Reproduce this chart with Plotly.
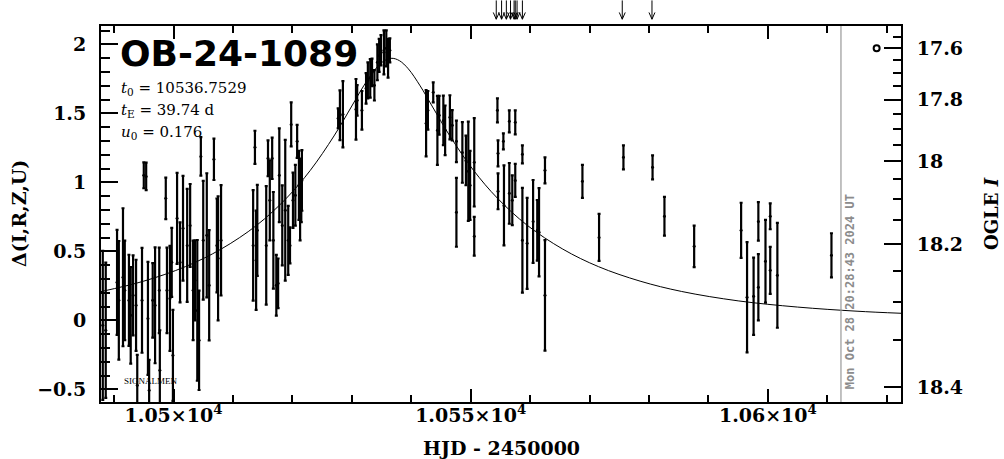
import math
import plotly.graph_objects as go

# ---- observed photometry (HJD-2450000, Delta, error) ----
days = [10488.1, 10488.6, 10490.5, 10490.8, 10491.5, 10491.8, 10492.5, 10492.8, 10493.2, 10493.7,
        10493.9, 10494.7, 10495.0, 10495.4, 10495.7, 10495.9, 10496.5, 10496.9, 10497.6, 10497.7,
        10498.7, 10498.9, 10499.4, 10499.7, 10499.9, 10500.6, 10501.1, 10501.6, 10502.3, 10502.8,
        10503.3, 10503.6, 10504.0, 10504.3, 10504.6, 10505.0, 10505.6, 10506.0, 10506.8, 10507.3,
        10507.5, 10508.0,
        10513.4, 10513.7, 10513.9, 10514.1, 10515.6, 10515.9, 10516.2, 10516.6, 10516.8, 10517.3,
        10517.6, 10517.8, 10518.3, 10518.8, 10519.3, 10519.6, 10519.8, 10520.1, 10520.5, 10520.8,
        10521.1, 10521.3, 10521.5, 10521.6,
        10527.7, 10528.0, 10528.5, 10530.7, 10530.9, 10531.7, 10532.4, 10532.7, 10533.1, 10533.4,
        10533.8, 10534.3, 10534.6, 10534.9, 10535.4, 10535.8, 10536.1, 10536.4,
        10542.5, 10542.8, 10543.7, 10544.4, 10544.7, 10545.4, 10545.7, 10546.5, 10546.9, 10547.6,
        10547.6, 10548.6, 10549.2, 10549.6, 10549.9, 10550.6, 10550.6,
        10554.5, 10554.6, 10554.6, 10555.5, 10555.6, 10556.5, 10556.5, 10557.0, 10557.5, 10557.5,
        10558.7, 10558.7, 10559.5, 10560.5, 10561.2, 10561.5, 10562.5, 10562.5,
        10568.8, 10571.6, 10575.7, 10580.6, 10582.6, 10587.6, 10595.5, 10596.5, 10597.6, 10598.4,
        10598.4, 10599.6, 10600.4, 10600.4, 10601.6, 10610.7]
delta = [-0.036, -0.072, 0.275, 0.145, 0.312, 0.217, 0.145, 0.036, 0.181, 0.109,
         -0.471, 0.145, 1.051, 1.043, 0.014, -0.507, 0.145, 0.109, 0.217, -0.362,
         0.884, 0.217, 0.159, 0.420, -0.254, 0.739, 0.420, 0.667, 0.543, 0.688,
         0.217, 0.290, 0.072, -0.145, 1.188, 0.580, 0.616, 0.254, 1.167, 0.543,
         0.449, 0.580,
         0.543, 1.254, 0.435, 0.652, 0.543, 1.174, 0.870, 1.174, 0.580, 0.254,
         0.268, 1.051, 0.688, 0.797, 0.580, 0.543, 1.420, 0.870, 0.906, 1.297,
         0.978, 0.870, 0.942, 1.014,
         1.464, 1.486, 1.493, 1.529, 1.594, 1.522, 1.681, 1.739, 1.754, 1.797,
         1.703, 1.870, 1.920, 1.957, 1.942, 1.971, 1.899, 1.957,
         1.428, 1.522, 1.652, 1.377, 1.486, 1.449, 1.377, 1.471, 1.413, 1.297,
         0.783, 1.217, 1.159, 1.080, 0.978, 1.145, 0.609,
         1.522, 1.210, 0.935, 1.297, 0.833, 1.442, 0.920, 0.870, 1.435, 1.014,
         1.203, 0.580, 0.558, 0.717, 0.652, 0.638, 1.087, 0.181,
         1.007, 0.601, 1.181, 1.109, 0.754, 0.536, 0.652, 0.167, 0.174, 0.717,
         0.239, 0.428, 0.754, 0.362, 0.326, 0.471]
err = [0.54, 0.49, 0.38, 0.43, 0.50, 0.36, 0.33, 0.35, 0.29, 0.33,
       0.22, 0.38, 0.094, 0.10, 0.41, 0.22, 0.27, 0.42, 0.31, 0.29,
       0.15, 0.31, 0.38, 0.25, 0.33, 0.33, 0.29, 0.38, 0.41, 0.30,
       0.36, 0.29, 0.51, 0.36, 0.14, 0.43, 0.45, 0.40, 0.15, 0.34,
       0.45, 0.40,
       0.40, 0.12, 0.36, 0.33, 0.43, 0.13, 0.29, 0.15, 0.35, 0.22,
       0.18, 0.34, 0.29, 0.51, 0.25, 0.13, 0.16, 0.20, 0.22, 0.12,
       0.25, 0.29, 0.23, 0.22,
       0.072, 0.18, 0.24, 0.22, 0.11, 0.14, 0.11, 0.13, 0.14, 0.10,
       0.11, 0.13, 0.12, 0.11, 0.16, 0.13, 0.14, 0.087,
       0.24, 0.14, 0.072, 0.25, 0.14, 0.18, 0.18, 0.16, 0.11, 0.15,
       0.25, 0.22, 0.18, 0.36, 0.25, 0.32, 0.14,
       0.087, 0.094, 0.13, 0.058, 0.29, 0.08, 0.22, 0.18, 0.087, 0.12,
       0.065, 0.38, 0.33, 0.30, 0.22, 0.32, 0.094, 0.40,
       0.12, 0.17, 0.087, 0.087, 0.14, 0.15, 0.20, 0.40, 0.28, 0.14,
       0.24, 0.30, 0.094, 0.17, 0.38, 0.16]

# ---- model curve ----
model_days = [10487.8, 10495, 10502, 10508, 10514, 10519, 10523, 10527, 10530, 10532,
              10534, 10535.5, 10536.75, 10538, 10539.5, 10541.5, 10543.5, 10546.5, 10550.5,
              10554.5, 10559.5, 10565.5, 10571.5, 10578.5, 10585.5, 10595, 10605, 10615, 10622.4]
model_delta = [0.208, 0.284, 0.389, 0.516, 0.689, 0.885, 1.086, 1.336, 1.553, 1.699,
               1.823, 1.882, 1.899, 1.882, 1.823, 1.699, 1.553, 1.336, 1.086,
               0.885, 0.689, 0.516, 0.389, 0.284, 0.209, 0.141, 0.096, 0.066, 0.051]

# ---- other marks ----
ref_day = [10618.3]
ref_delta = [1.971]
arrow_days = [10554.3, 10555.2, 10556.0, 10556.7, 10557.3, 10557.5, 10557.8, 10558.7, 10575.5, 10580.5]
now_day = 10612.3

# ---- ticks ----
x_tick_vals = [10500, 10550, 10600]
x_tick_text = ["1.05×10<sup>4</sup>", "1.055×10<sup>4</sup>", "1.06×10<sup>4</sup>"]
y_tick_vals = [-0.5, 0, 0.5, 1, 1.5, 2]
y_tick_text = ["\u22120.5", "0", "0.5", "1", "1.5", "2"]
mag_labels = [17.6, 17.8, 18.0, 18.2, 18.4]
mag_minor = [17.55, 17.65, 17.7, 17.75, 17.85, 17.9, 17.95, 18.05, 18.1, 18.15, 18.25, 18.3, 18.35]

# blend conversion I-mag -> Delta (source/blend flux fitted to the right axis)
FS, FB = 0.137, 0.6042
def mag_to_delta(m):
    return 2.5 * math.log10((10 ** (-0.4 * (m - 18.0)) - FB) / FS)

X_RANGE = [10487.8, 10622.4]
Y_RANGE = [-0.592, 2.133]

SERIF = "DejaVu Serif"

fig = go.Figure()
fig.add_trace(go.Scatter(
    x=model_days, y=model_delta, mode="lines", line=dict(color="black", width=1, shape="spline"),
    hoverinfo="skip", showlegend=False))
fig.add_trace(go.Scatter(
    x=days, y=delta, mode="markers",
    marker=dict(color="black", size=3),
    error_y=dict(type="data", array=err, visible=True, color="black", thickness=2.2, width=1.5),
    showlegend=False))
fig.add_trace(go.Scatter(
    x=ref_day, y=ref_delta, mode="markers",
    marker=dict(symbol="circle-open", size=6, color="black", line=dict(width=2)),
    showlegend=False))
# dummy trace for right axis
fig.add_trace(go.Scatter(x=[X_RANGE[0]], y=[Y_RANGE[0]], yaxis="y2", mode="markers",
                         marker=dict(opacity=0), hoverinfo="skip", showlegend=False))

tickfont = dict(family=SERIF, size=19, color="black", weight="bold")

fig.update_layout(
    width=1004, height=459,
    margin=dict(l=101, r=103, t=26, b=57),
    paper_bgcolor="white", plot_bgcolor="white",
    showlegend=False,
    xaxis=dict(range=X_RANGE, showgrid=False, zeroline=False,
               showline=True, linecolor="black", linewidth=2, mirror="ticks",
               ticks="inside", ticklen=13, tickwidth=2, tickcolor="black",
               tickmode="array", tickvals=x_tick_vals, ticktext=x_tick_text,
               tickfont=tickfont, ticklabelstandoff=-5,
               minor=dict(dtick=10, tick0=10500, ticks="inside", ticklen=7, tickwidth=2,
                          tickcolor="black", showgrid=False)),
    yaxis=dict(range=Y_RANGE, showgrid=False, zeroline=False,
               showline=True, linecolor="black", linewidth=2, mirror=True,
               ticks="inside", ticklen=17, tickwidth=2, tickcolor="black",
               tickmode="array", tickvals=y_tick_vals, ticktext=y_tick_text,
               tickfont=tickfont, ticklabelstandoff=9,
               minor=dict(dtick=0.1, tick0=0, ticks="inside", ticklen=9, tickwidth=2,
                          tickcolor="black", showgrid=False)),
    yaxis2=dict(range=Y_RANGE, overlaying="y", side="right", showgrid=False, zeroline=False,
                showline=True, linecolor="black", linewidth=2,
                ticks="inside", ticklen=17, tickwidth=2, tickcolor="black",
                tickmode="array", tickvals=[mag_to_delta(m) for m in mag_labels],
                ticktext=[f"{m:g}" for m in mag_labels],
                tickfont=tickfont, ticklabelstandoff=10,
                minor=dict(tickmode="array", tickvals=[mag_to_delta(m) for m in mag_minor],
                           ticks="inside", ticklen=8, tickwidth=2, tickcolor="black",
                           showgrid=False)),
)

fig.add_shape(type="line", xref="x", yref="paper", x0=now_day, x1=now_day, y0=0, y1=1,
              line=dict(color="#999999", width=1.2))

# arrows above the frame (open V heads)
for d in arrow_days:
    fig.add_shape(type="line", xref="x", yref="paper", x0=d, x1=d, y0=1.068, y1=1.018,
                  line=dict(color="black", width=1))
    fig.add_shape(type="path", xref="x", yref="paper",
                  path=f"M {d - 0.5},1.036 L {d},1.018 L {d + 0.5},1.036",
                  line=dict(color="black", width=1))

ann = []
ann.append(dict(text="OB-24-1089", xref="paper", yref="paper", x=0.021, y=0.926,
                xanchor="left", yanchor="middle", showarrow=False,
                font=dict(family="DejaVu Sans", size=36, color="black", weight="bold")))
param_font = dict(family=SERIF, size=15, color="black")
ann.append(dict(text="<i>t</i><sub>0</sub> = 10536.7529", xref="paper", yref="paper",
                x=0.0225, y=0.834, xanchor="left", yanchor="middle", showarrow=False, font=param_font))
ann.append(dict(text="<i>t</i><sub>E</sub> = 39.74 d", xref="paper", yref="paper",
                x=0.0225, y=0.776, xanchor="left", yanchor="middle", showarrow=False, font=param_font))
ann.append(dict(text="<i>u</i><sub>0</sub> = 0.176", xref="paper", yref="paper",
                x=0.0225, y=0.717, xanchor="left", yanchor="middle", showarrow=False, font=param_font))
ann.append(dict(text="SIGNALMEN", xref="paper", yref="paper", x=0.026, y=0.055,
                xanchor="left", yanchor="middle", showarrow=False,
                font=dict(family="Liberation Serif", size=9, color="black")))
ann.append(dict(text="Mon Oct 28 20:28:43 2024 UT", xref="x", yref="paper", x=now_day, y=0.03,
                xanchor="left", yanchor="bottom", xshift=0, textangle=-90, showarrow=False,
                font=dict(family="DejaVu Sans Mono", size=12, color="#8c8c8c", weight="bold")))
axis_title_font = dict(family=SERIF, size=19, color="black", weight="bold")
ann.append(dict(text="Δ(I,R,Z,U)", xref="paper", yref="paper", x=-0.1025, y=0.5,
                xanchor="center", yanchor="middle", textangle=-90, showarrow=False,
                font=axis_title_font))
ann.append(dict(text="OGLE <i>I</i>", xref="paper", yref="paper", x=1.1125, y=0.5,
                xanchor="center", yanchor="middle", textangle=-90, showarrow=False,
                font=dict(family=SERIF, size=18, color="black", weight="bold")))
ann.append(dict(text="HJD - 2450000", xref="paper", yref="paper", x=0.5, y=-0.123,
                xanchor="center", yanchor="middle", showarrow=False, font=axis_title_font))
fig.update_layout(annotations=ann)

fig.write_html("out.html", config={"displayModeBar": False},
               post_script="document.body.style.margin='0';document.body.style.overflow='hidden';")
